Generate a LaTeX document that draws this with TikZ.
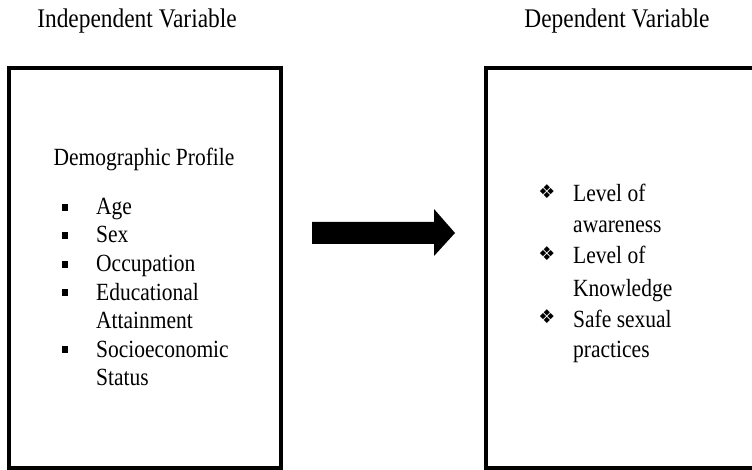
\documentclass[tikz,border=0pt]{standalone}
\usepackage{fontspec}
\setmainfont{Liberation Serif}
\newfontfamily\symfont{DejaVu Sans}
\newcommand{\stretchy}[1]{\scalebox{1}[1.15]{#1}}
\begin{document}
\begin{tikzpicture}[x=1pt,y=-1pt,
  boxframe/.style={draw=black,line width=4pt},
  title/.style={font=\fontsize{23.4}{28}\selectfont,anchor=base,inner sep=0pt},
  itemtext/.style={font=\fontsize{21.5}{28}\selectfont,anchor=base west,inner sep=0pt},
  dbullet/.style={font=\symfont\fontsize{19}{19}\selectfont,inner sep=0pt}]
\useasboundingbox (0,0) rectangle (752,470);
% titles
\node[title] (tind) at (137,28) {\stretchy{Independent Variable}};
\node[title] (tdep) at (617,28) {\stretchy{Dependent Variable}};
% boxes
\draw[boxframe] (9,68) rectangle (281,467.5);
\draw[boxframe] (485.5,68) -- (760,68);
\draw[boxframe] (485.5,66) -- (485.5,467.5) -- (760,467.5);
% left content
\node[itemtext,anchor=base] (demo) at (144,166) {\stretchy{Demographic Profile}};
\node[itemtext] (i1) at (96,215) {\stretchy{Age}};
\node[itemtext] (i2) at (96,243) {\stretchy{Sex}};
\node[itemtext] (i3) at (96,272) {\stretchy{Occupation}};
\node[itemtext] (i4) at (96,300) {\stretchy{Educational}};
\node[itemtext] (i4b) at (96,328) {\stretchy{Attainment}};
\node[itemtext] (i5) at (96,357) {\stretchy{Socioeconomic}};
\node[itemtext] (i5b) at (96,385) {\stretchy{Status}};
\foreach \y in {215,243,272,300,357}
  \fill (62,\y-11) rectangle (68,\y-4);
% arrow
\fill (312,222) -- (434,222) -- (434,209) -- (455,233) -- (434,256) -- (434,244) -- (312,244) -- cycle;
% right content
\node[itemtext] (r1) at (573,202) {\stretchy{Level of}};
\node[itemtext] (r1b) at (573,233) {\stretchy{awareness}};
\node[itemtext] (r2) at (573,264) {\stretchy{Level of}};
\node[itemtext] (r2b) at (573,296) {\stretchy{Knowledge}};
\node[itemtext] (r3) at (573,327) {\stretchy{Safe sexual}};
\node[itemtext] (r3b) at (573,357) {\stretchy{practices}};
\foreach \y/\n in {192/d1,254/d2,317/d3}
  \node[dbullet] (\n) at (547,\y) {❖};
\end{tikzpicture}
\end{document}
